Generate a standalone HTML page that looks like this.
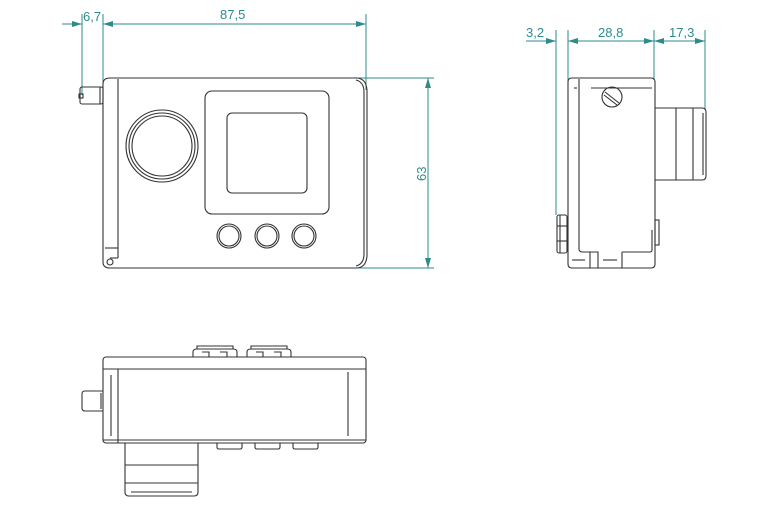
<!DOCTYPE html>
<html><head><meta charset="utf-8"><style>
html,body{margin:0;padding:0;background:#fff;}
svg{display:block}
text{font-family:"Liberation Sans",sans-serif;font-size:13px;fill:#2e8b8b}
</style></head><body>
<svg width="784" height="518" viewBox="0 0 784 518" xmlns="http://www.w3.org/2000/svg">
<defs>
<marker id="a" viewBox="0 0 10 6" refX="10" refY="3" markerWidth="10" markerHeight="6" orient="auto-start-reverse" markerUnits="userSpaceOnUse"><path d="M0,0L10,3L0,6z" fill="#2e8b8b"/></marker>
</defs>
<g stroke="#2e8b8b" stroke-width="1" fill="none">
<line x1="82" y1="14" x2="82" y2="95"/>
<line x1="103" y1="14" x2="103" y2="82"/>
<line x1="366" y1="14" x2="366" y2="90"/>
<line x1="62" y1="24" x2="82" y2="24" marker-end="url(#a)"/>
<line x1="103" y1="24" x2="366" y2="24" marker-start="url(#a)" marker-end="url(#a)"/>
<line x1="350" y1="78" x2="434" y2="78"/>
<line x1="350" y1="268" x2="434" y2="268"/>
<line x1="428" y1="78" x2="428" y2="268" marker-start="url(#a)" marker-end="url(#a)"/>
<line x1="556" y1="30" x2="556" y2="215"/>
<line x1="568" y1="30" x2="568" y2="90"/>
<line x1="654" y1="30" x2="654" y2="80"/>
<line x1="705" y1="30" x2="705" y2="110"/>
<line x1="526" y1="41" x2="556" y2="41" marker-end="url(#a)"/>
<line x1="568" y1="41" x2="654" y2="41" marker-start="url(#a)" marker-end="url(#a)"/>
<line x1="654" y1="41" x2="705" y2="41" marker-start="url(#a)" marker-end="url(#a)"/>
</g>
<text x="83" y="21">6,7</text>
<text x="220" y="19">87,5</text>
<text x="0" y="0" transform="translate(426,181) rotate(-90)">63</text>
<text x="526" y="37">3,2</text>
<text x="598" y="37">28,8</text>
<text x="669" y="37">17,3</text>

<g stroke="#333" stroke-width="1.1" fill="none">
<path d="M110,78 H356 Q366,78 367,90 V256 Q366,268 356,268 H110 Q103,268 103,262 V84 Q103,78 110,78z"/>
<path d="M356,80 Q364,82 364,92 V254 Q364,264 356,266"/>
<line x1="118" y1="79" x2="118" y2="258"/>
<line x1="105" y1="248" x2="118" y2="248"/>
<line x1="118" y1="258" x2="110" y2="258"/>
<circle cx="110" cy="262" r="3"/>
<rect x="80" y="87" width="23" height="17" rx="2"/>
<line x1="100" y1="87" x2="100" y2="104"/>
<rect x="79" y="94" width="4" height="4"/>
<circle cx="162" cy="146" r="36"/>
<circle cx="162" cy="146" r="33"/>
<circle cx="162" cy="146" r="30"/>
<rect x="205" y="91" width="124" height="123" rx="7"/>
<rect x="227" y="113" width="80" height="80" rx="5"/>
<circle cx="229" cy="236" r="12"/><circle cx="229" cy="236" r="10"/>
<circle cx="267" cy="236" r="12"/><circle cx="267" cy="236" r="10"/>
<circle cx="304" cy="236" r="12"/><circle cx="304" cy="236" r="10"/>

<path d="M572,78 H651 Q655,78 655,82 V264 Q655,268 651,268 H572 Q568,268 568,264 V82 Q568,78 572,78z"/>
<line x1="579" y1="79" x2="579" y2="250"/>
<line x1="574" y1="88" x2="577" y2="88"/>
<line x1="591" y1="88" x2="652" y2="88"/>
<circle cx="612" cy="97" r="10"/>
<line x1="605" y1="92" x2="619" y2="103"/><line x1="604" y1="95" x2="617" y2="105"/>
<path d="M655,108 H702 Q706,108 706,112 V176 Q706,180 702,180 H655"/>
<line x1="676" y1="108" x2="676" y2="180"/>
<line x1="693" y1="108" x2="693" y2="180"/>
<line x1="703" y1="113" x2="703" y2="175"/>
<rect x="557" y="215" width="10" height="38" rx="2"/>
<line x1="560" y1="215" x2="560" y2="253"/>
<line x1="557" y1="226" x2="567" y2="226"/><line x1="557" y1="241" x2="567" y2="241"/>
<rect x="655" y="220" width="4" height="25"/>
<path d="M579,250 Q580,252 583,252 H598 V268 M590,252 V268 M622,252 V268 M622,252 H650 Q652,252 652,250 V230"/>
<line x1="572" y1="260" x2="585" y2="260"/><line x1="603" y1="260" x2="617" y2="260"/>

<rect x="103" y="357" width="263" height="86" rx="3"/>
<line x1="103" y1="369" x2="366" y2="369"/>
<line x1="103" y1="440" x2="366" y2="440"/>
<line x1="118" y1="369" x2="118" y2="443"/>
<line x1="111" y1="375" x2="111" y2="436"/>
<line x1="348" y1="372" x2="348" y2="436"/>
<path d="M103,391 H85 Q82,391 82,394 V408 Q82,411 85,411 H103"/>
<line x1="101" y1="393" x2="101" y2="409"/>
<path d="M193,357 V352 Q193,349 197,349 H233 Q237,349 237,352 V357 M197,349 V346 H233 V349 M202,352 H209 V357 M220,352 H227 V357"/>
<path d="M247,357 V352 Q247,349 251,349 H287 Q291,349 291,352 V357 M251,349 V346 H287 V349 M256,352 H263 V357 M274,352 H281 V357"/>
<path d="M217,443 V447 Q217,449 219,449 H240 Q242,449 242,447 V443"/>
<path d="M255,443 V447 Q255,449 257,449 H278 Q280,449 280,447 V443"/>
<path d="M293,443 V447 Q293,449 295,449 H316 Q318,449 318,447 V443"/>
<path d="M125,443 V492 Q125,496 129,496 H194 Q198,496 198,492 V443"/>
<line x1="125" y1="465" x2="198" y2="465"/>
<line x1="125" y1="483" x2="198" y2="483"/>
<line x1="131" y1="492" x2="192" y2="492"/>
</g>
</svg>
</body></html>
